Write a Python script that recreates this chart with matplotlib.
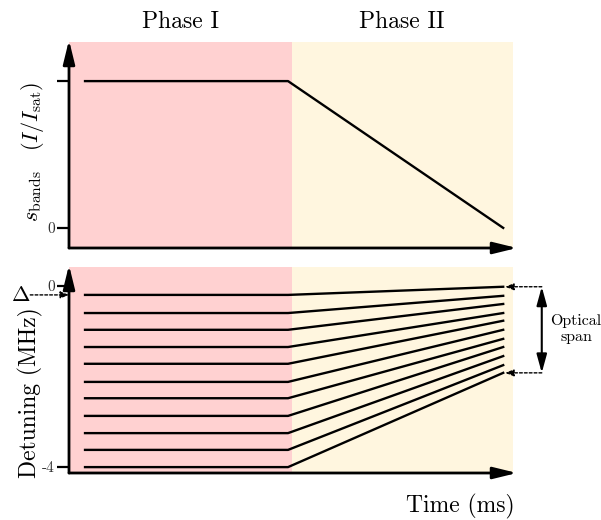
import numpy as np
import matplotlib
matplotlib.use("Agg")
import matplotlib.pyplot as plt
from matplotlib.patches import Rectangle

plt.rcParams.update({"font.family": "cmr10", "mathtext.fontset": "cm",
                     "axes.unicode_minus": False})

phase_t = [0.0, 1.0, 2.06]              # start, phase switch, end (ms, arbitrary)
s_bands = [1.0, 1.0, 0.0]               # band intensity, I/I_sat
det_start = [-0.2, -0.6, -0.97, -1.35, -1.72, -2.12, -2.48, -2.87, -3.25, -3.62, -4.0]
det_end = [-0.02, -0.22, -0.4, -0.6, -0.77, -0.97, -1.17, -1.35, -1.55, -1.75, -1.92]
top_ticks, top_labels = [0, 1], ["0", ""]
bot_ticks, bot_labels = [-4, 0], ["-4", "0"]

PINK, CREAM = "#ffd1d1", "#fff6df"
W, H = 601, 520
XL = (-0.079, 2.128)
BG_X = (-0.079, 1.02, 2.108)

fig = plt.figure(figsize=(W / 100, H / 100), dpi=100)
ax1 = fig.add_axes([69 / W, (H - 248) / H, 448 / W, 208 / H])
ax2 = fig.add_axes([69 / W, (H - 473) / H, 448 / W, 208 / H])


def frame(ax, ylim, bg_top, ticks, labels):
    ax.set_xlim(*XL); ax.set_ylim(*ylim)
    ax.add_patch(Rectangle((BG_X[0], ylim[0]), BG_X[1] - BG_X[0], bg_top - ylim[0],
                           facecolor=PINK, edgecolor="none", zorder=0))
    ax.add_patch(Rectangle((BG_X[1], ylim[0]), BG_X[2] - BG_X[1], bg_top - ylim[0],
                           facecolor=CREAM, edgecolor="none", zorder=0))
    for sp in ax.spines.values(): sp.set_visible(False)
    ax.set_xticks([])
    ax.set_yticks(ticks); ax.set_yticklabels(labels)
    ax.tick_params(axis="y", direction="out", length=9, width=1.6, color="k",
                   labelsize=11, labelcolor="#333333", pad=1)
    ap = dict(arrowstyle="-|>,head_length=0.9,head_width=0.22", lw=2, color="k",
              mutation_scale=16, shrinkA=0, shrinkB=0)
    ax.annotate("", xy=(1, 0), xytext=(0, 0), xycoords="axes fraction", arrowprops=ap)
    ax.annotate("", xy=(0, 1), xytext=(0, 0), xycoords="axes fraction", arrowprops=ap)


frame(ax1, (-0.137, 1.28), 1.267, top_ticks, top_labels)
frame(ax2, (-4.13, 0.46), 0.42, bot_ticks, bot_labels)

ax1.plot(phase_t, s_bands, color="k", lw=1.7, zorder=3)
for a, b in zip(det_start, det_end):
    ax2.plot(phase_t, [a, a, b], color="k", lw=1.7, zorder=3)

# titles over the phases
fig.text(180 / W, 1 - 22 / H, "Phase I", ha="center", va="center", fontsize=17)
fig.text(402 / W, 1 - 22 / H, "Phase II", ha="center", va="center", fontsize=17)

fig.text(32 / W, 1 - 152 / H, r"$s_{\mathrm{bands}}\quad(I/I_{\mathrm{sat}})$",
         rotation=90, ha="center", va="center", fontsize=16)
fig.text(30 / W, 1 - 393 / H, "Detuning (MHz)", rotation=90, ha="center", va="center",
         fontsize=17)
fig.text(460 / W, 1 - 506 / H, "Time (ms)", ha="center", va="center", fontsize=17)

# Delta marker
dot = dict(arrowstyle="-|>,head_length=0.5,head_width=0.2", lw=1, ls=(0, (2, 1.5)),
           color="k", mutation_scale=10, shrinkA=0, shrinkB=0)
ax2.annotate("", xy=(XL[0], det_start[0]), xytext=(-0.27, det_start[0]),
             arrowprops=dot, annotation_clip=False)
fig.text(21 / W, 1 - 295 / H, r"$\Delta$", ha="center", va="center", fontsize=16)

# optical span
xr = 2.25
for y in (det_end[0], det_end[-1]):
    ax2.annotate("", xy=(phase_t[-1] + 0.01, y), xytext=(xr, y),
                 arrowprops=dot, annotation_clip=False)
ax2.annotate("", xy=(xr, det_end[0]), xytext=(xr, det_end[-1]),
             arrowprops=dict(arrowstyle="<|-|>,head_length=0.8,head_width=0.22", lw=1.5,
                             color="k", mutation_scale=14, shrinkA=0, shrinkB=0),
             annotation_clip=False)
fig.text(576 / W, 1 - 329 / H, "Optical\nspan", ha="center", va="center", fontsize=11.5,
         linespacing=1.3)

fig.savefig("out.png", dpi=100, facecolor="white")
